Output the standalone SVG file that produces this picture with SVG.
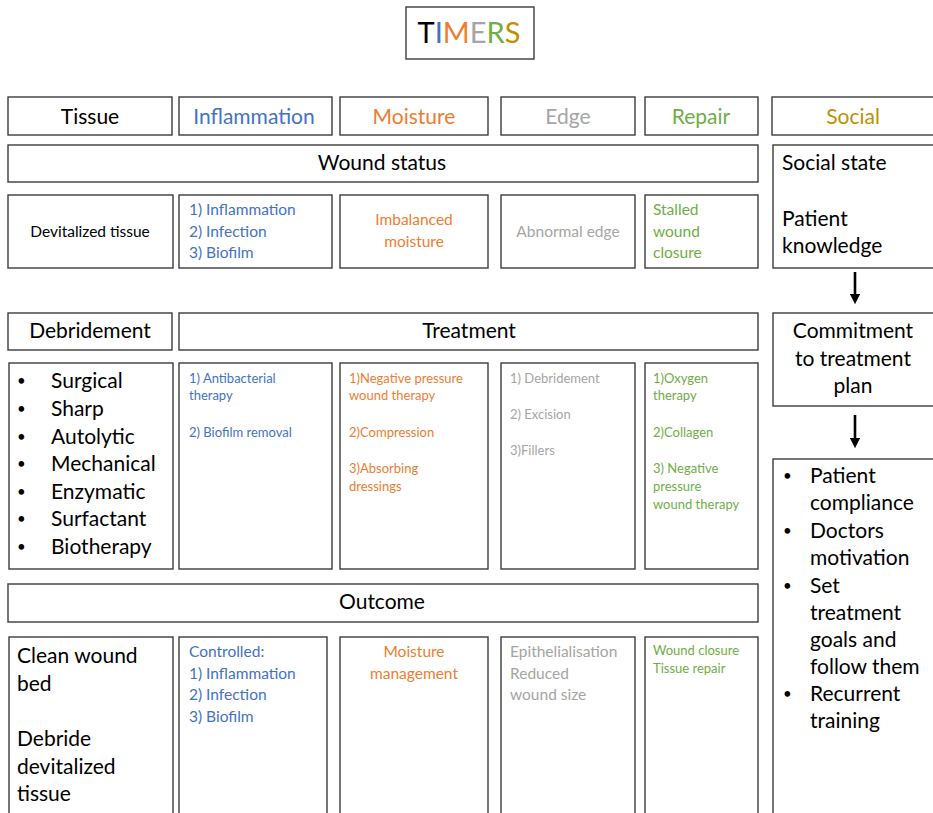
<svg xmlns="http://www.w3.org/2000/svg" width="933" height="813" viewBox="0 0 933 813">
<defs>
<marker id="ah" markerWidth="4" markerHeight="4" refX="2" refY="2" orient="auto" markerUnits="strokeWidth">
<path d="M0,0 L4,2 L0,4 z" fill="#000"/>
</marker>
<style>
rect{fill:#fff;stroke:#3c3c3c;stroke-width:1.4}
text{font-family:Lato,"Liberation Sans",sans-serif;fill:#000}
.c{text-anchor:middle}
.h{font-size:21px}
.m{font-size:15.5px}
.s{font-size:13px}
.d{font-size:15px}
.b{fill:#4472C4}
.o{fill:#ED7D31}
.g{fill:#A5A5A5}
.gr{fill:#70AD47}
.y{fill:#BF9000}
</style>
</defs>
<rect width="933" height="813" style="fill:#fff;stroke:none"/>
<g id="title">
<rect x="406" y="7" width="128" height="52"/>
<text x="469" y="43" class="c" style="font-size:29px"><tspan>T</tspan><tspan class="b">I</tspan><tspan class="o">M</tspan><tspan class="g">E</tspan><tspan class="gr">R</tspan><tspan class="y">S</tspan></text>
</g>
<g id="hdr-tissue"><rect x="8" y="97" width="164" height="38"/><text x="90" y="124" class="c h">Tissue</text></g>
<g id="hdr-inflammation"><rect x="179" y="97" width="153" height="38"/><text x="254" y="124" class="c h b">Inflammation</text></g>
<g id="hdr-moisture"><rect x="340" y="97" width="148" height="38"/><text x="414" y="124" class="c h o">Moisture</text></g>
<g id="hdr-edge"><rect x="501" y="97" width="134" height="38"/><text x="568" y="124" class="c h g">Edge</text></g>
<g id="hdr-repair"><rect x="645" y="97" width="113" height="38"/><text x="701" y="124" class="c h gr">Repair</text></g>
<g id="hdr-social"><rect x="772" y="97" width="170" height="38"/><text x="853" y="124" class="c h y">Social</text></g>

<g id="wound-status"><rect x="8" y="145" width="750" height="37"/><text x="382" y="170" class="c h">Wound status</text></g>
<g id="social-state"><rect x="773" y="145" width="170" height="123"/>
<text x="782" y="170" class="h">Social state</text>
<text x="782" y="226" class="h">Patient</text>
<text x="782" y="253" class="h">knowledge</text></g>

<g id="ws-tissue"><rect x="8" y="195" width="165" height="73"/><text x="90" y="237" class="c m">Devitalized tissue</text></g>
<g id="ws-inflammation"><rect x="179" y="195" width="153" height="73"/>
<text x="189" y="215" class="m b">1) Inflammation</text>
<text x="189" y="237" class="m b">2) Infection</text>
<text x="189" y="258" class="m b">3) Biofilm</text></g>
<g id="ws-moisture"><rect x="340" y="195" width="148" height="73"/>
<text x="414" y="225" class="c m o">Imbalanced</text>
<text x="414" y="247" class="c m o">moisture</text></g>
<g id="ws-edge"><rect x="501" y="195" width="134" height="73"/><text x="568" y="237" class="c m g">Abnormal edge</text></g>
<g id="ws-repair"><rect x="645" y="195" width="113" height="73"/>
<text x="653" y="215" class="m gr">Stalled</text>
<text x="653" y="237" class="m gr">wound</text>
<text x="653" y="258" class="m gr">closure</text></g>

<g id="connectors">
<line x1="855" y1="272" x2="855" y2="299" stroke="#000" stroke-width="2.6" marker-end="url(#ah)"/>
<line x1="855" y1="415" x2="855" y2="443" stroke="#000" stroke-width="2.6" marker-end="url(#ah)"/>
</g>

<g id="debridement"><rect x="8" y="313" width="164" height="37"/><text x="90" y="338" class="c h">Debridement</text></g>
<g id="treatment"><rect x="179" y="313" width="579" height="37"/><text x="469" y="338" class="c h">Treatment</text></g>
<g id="commitment"><rect x="773" y="313" width="170" height="93"/>
<text x="853" y="338" class="c h">Commitment</text>
<text x="853" y="366" class="c h">to treatment</text>
<text x="853" y="393" class="c h">plan</text></g>

<g id="tr-tissue"><rect x="9" y="363" width="164" height="206"/>
<text x="17" y="386" class="d">•</text><text x="51" y="388" class="h">Surgical</text>
<text x="17" y="414" class="d">•</text><text x="51" y="416" class="h">Sharp</text>
<text x="17" y="442" class="d">•</text><text x="51" y="444" class="h">Autolytic</text>
<text x="17" y="469" class="d">•</text><text x="51" y="471" class="h">Mechanical</text>
<text x="17" y="497" class="d">•</text><text x="51" y="499" class="h">Enzymatic</text>
<text x="17" y="524" class="d">•</text><text x="51" y="526" class="h">Surfactant</text>
<text x="17" y="552" class="d">•</text><text x="51" y="554" class="h">Biotherapy</text>
</g>
<g id="tr-inflammation"><rect x="179" y="363" width="153" height="206"/>
<text x="189" y="383" class="s b">1) Antibacterial</text>
<text x="189" y="400" class="s b">therapy</text>
<text x="189" y="437" class="s b">2) Biofilm removal</text></g>
<g id="tr-moisture"><rect x="340" y="363" width="148" height="206"/>
<text x="349" y="383" class="s o">1)Negative pressure</text>
<text x="349" y="400" class="s o">wound  therapy</text>
<text x="349" y="437" class="s o">2)Compression</text>
<text x="349" y="473" class="s o">3)Absorbing</text>
<text x="349" y="491" class="s o">dressings</text></g>
<g id="tr-edge"><rect x="501" y="363" width="134" height="206"/>
<text x="510" y="383" class="s g">1) Debridement</text>
<text x="510" y="419" class="s g">2) Excision</text>
<text x="510" y="455" class="s g">3)Fillers</text></g>
<g id="tr-repair"><rect x="645" y="363" width="113" height="206"/>
<text x="653" y="383" class="s gr">1)Oxygen</text>
<text x="653" y="400" class="s gr">therapy</text>
<text x="653" y="437" class="s gr">2)Collagen</text>
<text x="653" y="473" class="s gr">3) Negative</text>
<text x="653" y="491" class="s gr">pressure</text>
<text x="653" y="509" class="s gr">wound  therapy</text></g>

<g id="social-actions"><rect x="773" y="459" width="170" height="370"/>
<text x="783" y="481" class="d">•</text><text x="810" y="483" class="h">Patient</text>
<text x="810" y="510" class="h">compliance</text>
<text x="783" y="536" class="d">•</text><text x="810" y="538" class="h">Doctors</text>
<text x="810" y="565" class="h">motivation</text>
<text x="783" y="591" class="d">•</text><text x="810" y="593" class="h">Set</text>
<text x="810" y="620" class="h">treatment</text>
<text x="810" y="647" class="h">goals and</text>
<text x="810" y="674" class="h">follow them</text>
<text x="783" y="699" class="d">•</text><text x="810" y="701" class="h">Recurrent</text>
<text x="810" y="728" class="h">training</text></g>

<g id="outcome"><rect x="8" y="584" width="750" height="38"/><text x="382" y="609" class="c h">Outcome</text></g>

<g id="oc-tissue"><rect x="9" y="637" width="164" height="200"/>
<text x="17" y="663" class="h">Clean wound</text>
<text x="17" y="691" class="h">bed</text>
<text x="17" y="746" class="h">Debride</text>
<text x="17" y="774" class="h">devitalized</text>
<text x="17" y="801" class="h">tissue</text></g>
<g id="oc-inflammation"><rect x="179" y="637" width="148" height="200"/>
<text x="189" y="657" class="m b">Controlled:</text>
<text x="189" y="679" class="m b">1) Inflammation</text>
<text x="189" y="700" class="m b">2) Infection</text>
<text x="189" y="722" class="m b">3) Biofilm</text></g>
<g id="oc-moisture"><rect x="340" y="637" width="148" height="200"/>
<text x="414" y="657" class="c m o">Moisture</text>
<text x="414" y="679" class="c m o">management</text></g>
<g id="oc-edge"><rect x="501" y="637" width="134" height="200"/>
<text x="510" y="657" class="m g">Epithelialisation</text>
<text x="510" y="679" class="m g">Reduced</text>
<text x="510" y="700" class="m g">wound size</text></g>
<g id="oc-repair"><rect x="645" y="637" width="113" height="200"/>
<text x="653" y="655" class="s gr">Wound  closure</text>
<text x="653" y="673" class="s gr">Tissue repair</text></g>
</svg>
